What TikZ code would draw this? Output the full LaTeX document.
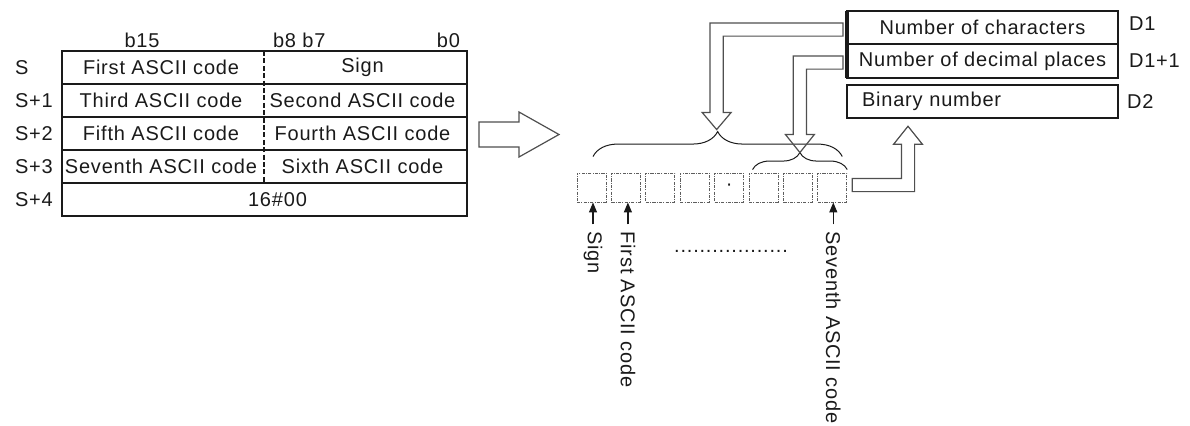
\documentclass[tikz,border=0pt]{standalone}
\usepackage{fontspec}
\setmainfont[LetterSpace=4]{Liberation Sans}
\usepackage{xcolor}
\usepackage{tikz}
\usetikzlibrary{calc, positioning, decorations.pathreplacing, arrows.meta}
\definecolor{plcink}{HTML}{1A1A1A}
\definecolor{plcwire}{HTML}{4F4F4F}
\definecolor{plcdots}{HTML}{5E5E5E}
\newcommand{\fsReg}{\fontsize{10}{12}\selectfont}
\tikzset{
  lbl/.style={font=\fsReg, text=plcink},
  regbox/.style={lbl, draw=plcink, line width=0.8pt, outer sep=0pt, inner sep=0pt,
    minimum width=135.5pt, minimum height=16.75pt},
  digitbox/.style={draw=plcdots, line width=0.45pt, inner sep=0pt, minimum size=14.5pt,
    dash pattern=on 1.6pt off 0.6pt on 0.5pt off 0.6pt},
  blockarrow/.style={draw=plcwire, line width=0.6pt, line join=miter},
  bracket/.style={draw=plcink, line width=0.5pt, decorate},
  vlabel/.style={lbl, rotate=-90, anchor=west},
  pickarrow/.style={draw=plcink, line width=0.6pt, -{Triangle[length=5pt, width=4pt]}},
}
\newcommand{\ShW}{3.3pt}
\newcommand{\HdW}{7.2pt}
\newcommand{\hollowBend}[3]{%
  \draw[blockarrow] let \p1=#1, \p2=#2 in
    (\x1,\y1+\ShW) -- (\x2-\ShW,\y1+\ShW) -- (\x2-\ShW,\y2#3) -- (\x2-\HdW,\y2#3) -- (\x2,\y2)
    -- (\x2+\HdW,\y2#3) -- (\x2+\ShW,\y2#3) -- (\x2+\ShW,\y1-\ShW) -- (\x1,\y1-\ShW) -- cycle;
}

\begin{document}
\begin{tikzpicture}[x=0.5pt, y=-0.5pt]
  \useasboundingbox (0,0) rectangle (1190,425);
  \def\TabL{62}\def\TabR{467}\def\TabM{264}\def\TabT{51}\def\RowH{33}
  \pgfmathsetmacro{\TabB}{\TabT+5*\RowH}
  \draw[plcink, line width=0.7pt] (\TabL,\TabT) rectangle (\TabR,\TabB);
  \foreach \r in {1,...,4}
    \draw[plcink, line width=0.7pt] (\TabL,\TabT+\r*\RowH) -- (\TabR,\TabT+\r*\RowH);
  \draw[plcink, line width=0.7pt, dash pattern=on 2.5pt off 1.2pt]
    (\TabM,\TabT) -- (\TabM,\TabT+4*\RowH);
  \node[lbl] (bitHi) at (142,40) {b15};
  \node[lbl, anchor=west] (bitMid) at (\TabM+2,40) {b8 b7};
  \node[lbl, anchor=east] (bitLo) at (\TabR,40) {b0};
  \foreach \r/\lab/\lo/\hi in {0/S/First ASCII code/Sign, 1/S+1/Third ASCII code/Second ASCII code,
      2/S+2/Fifth ASCII code/Fourth ASCII code, 3/S+3/Seventh ASCII code/Sixth ASCII code}{
    \pgfmathsetmacro{\yC}{\TabT+(\r+0.5)*\RowH}
    \node[lbl, anchor=west] (row\r) at (8,\yC) {\lab};
    \node[lbl] (lo\r) at ({(\TabL+\TabM)/2-2},\yC) {\lo};
    \node[lbl] (hi\r) at ({(\TabM+\TabR)/2-3},\yC) {\hi};
  }
  \node[lbl, anchor=west] (row4) at (8,\TabT+4.5*\RowH) {S+4};
  \node[lbl] (word4) at ({(\TabL+\TabR)/2+13},\TabT+4.5*\RowH) {16\#00};
  \draw[blockarrow] (479,122) -- (519,122) -- (519,112) -- (559,134.5)
    -- (519,157) -- (519,147) -- (479,147) -- cycle;
  \foreach \i in {1,...,8}
    \node[digitbox] (cell\i) at ({591.5+(\i-1)*34.4},187.5) {};
  \node[lbl] (dpoint) at (cell5.center) {\textperiodcentered};
  \coordinate (bigL) at ($(cell1.north)+(1.5,-16)$);
  \coordinate (bigR) at ($(cell8.north)+(10,-16)$);
  \coordinate (bigTip) at ($(bigL)!0.5!(bigR)+(0,-25)$);
  \coordinate (smallL) at ($(cell6.north west)+(4,-3)$);
  \coordinate (smallR) at ($(cell8.north east)+(0,-3)$);
  \coordinate (smallTip) at ($(smallL)!0.5!(smallR)+(0,-17)$);
  \draw[bracket, decoration={brace, amplitude=12.5pt}] (bigL) -- (bigR);
  \draw[bracket, decoration={brace, amplitude=8.5pt}] (smallL) -- (smallR);
  \node[regbox] (nchar) at (982.5,27.5) {Number of characters};
  \node[regbox, below=0pt of nchar] (ndec) {Number of decimal places};
  \node[regbox, below=3.5pt of ndec, text width=120.5pt, inner xsep=7.5pt, align=left]
    (binnum) {Binary number};
  \draw[plcink, line width=1.6pt] (nchar.north west) -- (ndec.south west);
  \node[lbl, right=2pt of nchar.east, yshift=2pt] (regA) {D1};
  \node[lbl, right=2pt of ndec.east] (regB) {D1+1};
  \node[lbl, right=1pt of binnum.east] (regC) {D2};
  \hollowBend{($(nchar.west)+(-4,2)$)}{($(bigTip)+(-1,-2)$)}{+8.5pt}
  \hollowBend{($(ndec.west)+(-4,1.5)$)}{(smallTip)}{+9pt}
  \hollowBend{($(cell8.east)+(5,-2.5)$)}{($(binnum.south west)+(61,8)$)}{-9pt}
  \node[vlabel] (tagSign) at ($(cell1.south)+(1.5,22)$) {Sign};
  \node[vlabel] (tagFirst) at ($(cell2.south)+(2,22)$) {First ASCII code};
  \node[vlabel] (tagSeventh) at ($(cell8.south)+(1,22)$) {Seventh ASCII code};
  \draw[pickarrow] (tagSign.west) -- (tagSign.west |- cell1.south);
  \draw[pickarrow] (tagFirst.west) -- (tagFirst.west |- cell2.south);
  \draw[pickarrow] (tagSeventh.west) -- (tagSeventh.west |- cell8.south);
  \node[lbl] (ellip) at (731,251) {..................};
\end{tikzpicture}
\end{document}
